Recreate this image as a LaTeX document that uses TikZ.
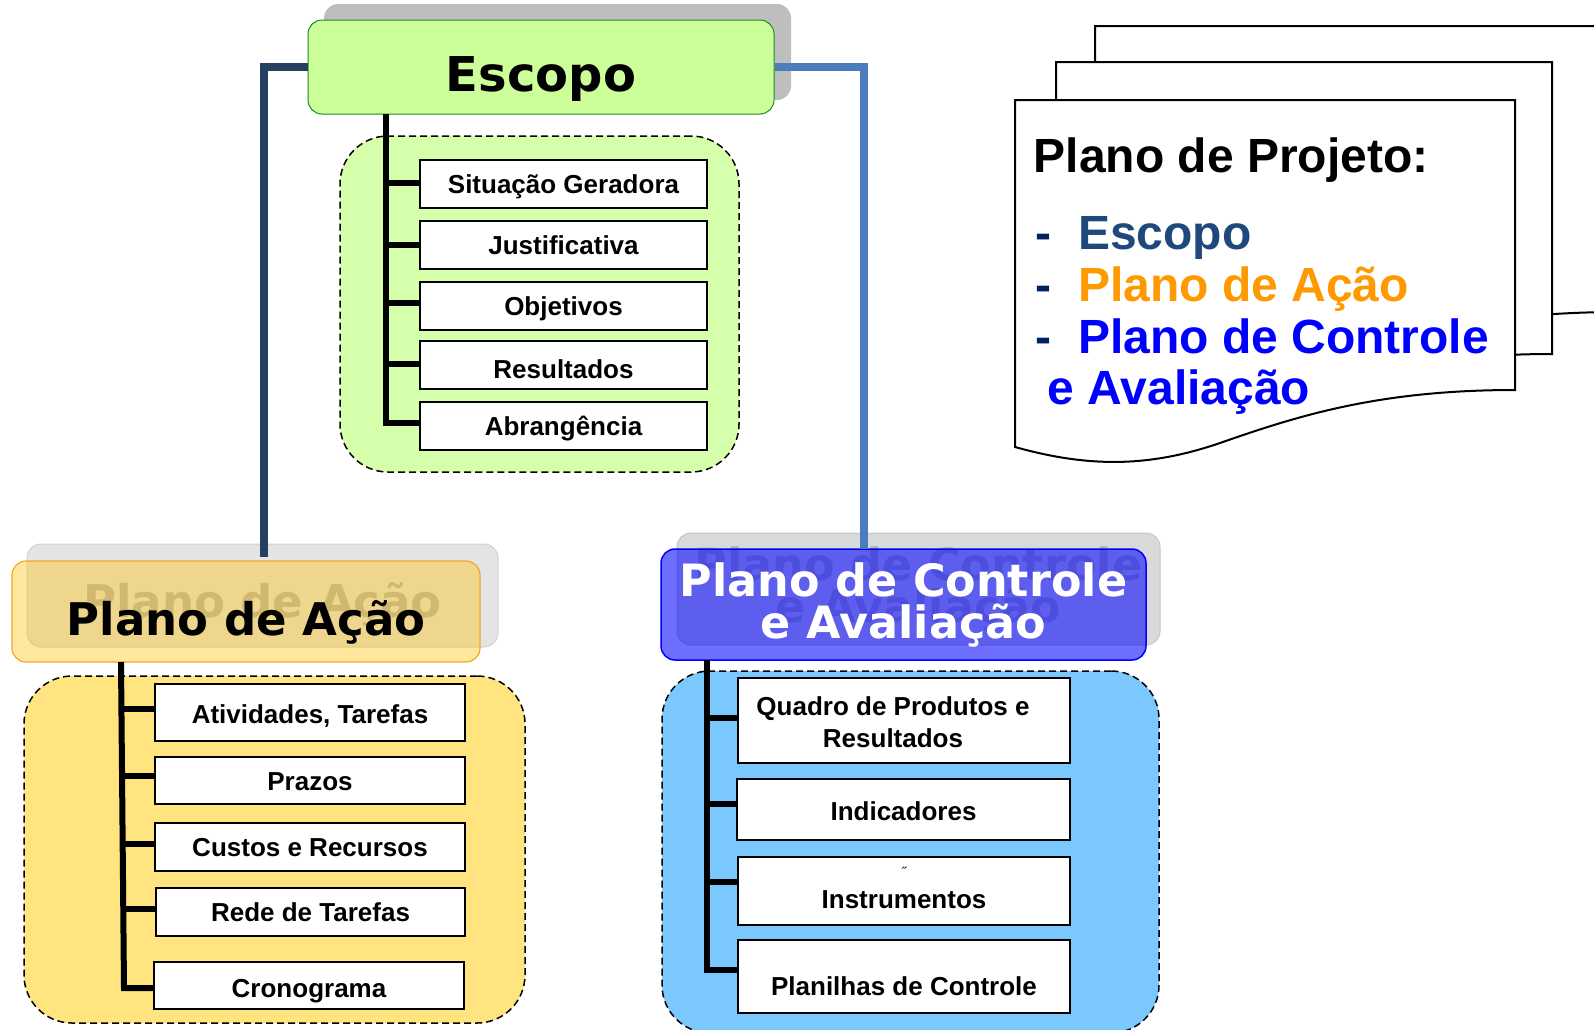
\documentclass[tikz,border=0pt]{standalone}
\usepackage{fontspec}
\setmainfont{Liberation Sans}
\newfontfamily\hdfont{DejaVu Sans}
\newcommand{\twoL}[3]{\vtop{\baselineskip=#1\relax\lineskiplimit=-1000pt\lineskip=0pt\halign{\hfil##\hfil\cr#2\cr#3\cr}}}
\definecolor{escfill}{HTML}{CCFF99}
\definecolor{escdraw}{HTML}{1E8A1E}
\definecolor{greenreg}{HTML}{D5FFAA}
\definecolor{yelreg}{HTML}{FFE480}
\definecolor{orgfill}{HTML}{FFC000}
\definecolor{orgdraw}{HTML}{F5A62A}
\definecolor{bluereg}{HTML}{7BC8FF}
\definecolor{blufill}{HTML}{0000FF}
\definecolor{conL}{HTML}{243F60}
\definecolor{conR}{HTML}{4A7EBB}
\definecolor{shEsc}{HTML}{BEBEBE}
\definecolor{shAcao}{HTML}{E4E4E4}
\definecolor{shAcaoD}{HTML}{D2D2D2}
\definecolor{shCtrl}{HTML}{D9D9D9}
\definecolor{shCtrlD}{HTML}{C6C6C6}
\definecolor{shtext}{HTML}{B4B4B4}
\definecolor{docnavy}{HTML}{002060}
\definecolor{docEsc}{HTML}{1F497D}
\definecolor{docOrg}{HTML}{FF9900}
\definecolor{docBlue}{HTML}{0000FF}
\tikzset{
  hdr/.style={rounded corners=14pt, inner sep=0pt},
  hdrfont/.style={font=\fontsize{#1}{#1}\hdfont\bfseries},
  itembox/.style={draw=black, line width=2pt, fill=white, inner sep=0pt,
    text height=19pt, text depth=0pt, font=\fontsize{26}{32}\selectfont\bfseries},
  region/.style={draw=black, dash pattern=on 7pt off 4pt, line width=1.5pt,
    rounded corners=48pt, inner sep=0pt},
  trunk/.style={line width=6pt, draw=black, line join=miter},
  conn/.style={line width=8.5pt, line join=miter},
  page/.style={draw=black, fill=white, line width=2pt, line join=miter},
  doctext/.style={anchor=base west, inner sep=0pt, font=\fontsize{48}{52}\selectfont\bfseries},
}
\begin{document}
\begin{tikzpicture}[x=1pt,y=-1pt]
\useasboundingbox (0,0) rectangle (1594,1029);
\begin{scope}
\clip (0,0) rectangle (1594,1029);

% ---------- document stack ----------
\filldraw[page] (1095,374) -- (1095,26) -- (1620,26) -- (1620,312)
  .. controls (1480,312) and (1400,337) .. (1320,365)
  .. controls (1250,389) and (1170,392) .. (1095,374) -- cycle;
\filldraw[page] (1056,410) -- (1056,62) -- (1552,62) -- (1552,354)
  .. controls (1420,354) and (1340,379) .. (1260,407)
  .. controls (1190,431) and (1130,432) .. (1056,410) -- cycle;
\filldraw[page] (1015,447) -- (1015,100) -- (1515,100) -- (1515,390)
  .. controls (1380,390) and (1300,415) .. (1220,443)
  .. controls (1150,467) and (1090,468) .. (1015,447) -- cycle;

\node[doctext] (pp) at (1033.5,172) {Plano de Projeto:};
\node[doctext] (d1) at (1035,249) {\textcolor{docnavy}{-}\hspace{27pt}\textcolor{docEsc}{Escopo}};
\node[doctext] (d2) at (1035,301) {\textcolor{docnavy}{-}\hspace{27pt}\textcolor{docOrg}{Plano de Ação}};
\node[doctext] (d3) at (1035,353) {\textcolor{docnavy}{-}\hspace{27pt}\textcolor{docBlue}{Plano de Controle}};
\node[doctext, text=docBlue] (d4) at (1047.5,404) {e Avaliação};

% ---------- shadows ----------
\node[hdr, fill=shEsc, minimum width=467pt, minimum height=96pt] (escsh) at (557.5,52) {};
\node[hdr, fill=shAcao, draw=shAcaoD, line width=1pt, minimum width=471pt, minimum height=103pt,
  hdrfont=45, text=shtext, text height=43pt, text depth=0pt] (acaosh) at (262.5,595.5) {Plano de Ação};
\node[hdr, fill=shCtrl, draw=shCtrlD, line width=1pt, minimum width=483pt, minimum height=112pt,
  hdrfont=44.5, text=shtext, text height=30pt, text depth=48pt] (ctrlsh) at (918.5,589)
  {\twoL{42pt}{Plano de Controle}{e Avaliação}};

% ---------- header boxes ----------
\node[hdr, fill=escfill, draw=escdraw, line width=1pt, minimum width=466pt, minimum height=94pt,
  hdrfont=48, text height=48pt, text depth=0pt] (esc) at (541,67) {Escopo};
\node[hdr, fill=orgfill, fill opacity=0.38, text opacity=1, draw=orgdraw, line width=1.2pt,
  minimum width=468pt, minimum height=101pt, hdrfont=45, text height=47pt, text depth=0pt]
  (acao) at (246,611.5) {Plano de Ação};
\node[hdr, fill=blufill, fill opacity=0.57, text opacity=1, draw=blufill, line width=1.5pt,
  minimum width=485pt, minimum height=111pt, hdrfont=44.5, text=white, text height=30pt, text depth=47pt]
  (ctrl) at (903.5,604.5) {\twoL{42pt}{Plano de Controle}{e Avaliação}};

% ---------- connectors ----------
\coordinate (acaoTop) at (264,557);
\coordinate (ctrlTop) at (864,549);
\draw[conn, conL] (esc.west) -| (acaoTop);
\draw[conn, conR] (esc.east) -| (ctrlTop);

% ---------- Escopo group ----------
\node[region, fill=greenreg, minimum width=399pt, minimum height=336pt] (escreg) at (539.5,304) {};
\node[itembox, minimum width=287pt, minimum height=48pt] (sg) at (563.5,184) {Situação Geradora};
\node[itembox, minimum width=287pt, minimum height=48pt] (ju) at (563.5,245) {Justificativa};
\node[itembox, minimum width=287pt, minimum height=48pt] (ob) at (563.5,306) {Objetivos};
\node[itembox, minimum width=287pt, minimum height=48pt, text height=26pt] (re) at (563.5,365) {Resultados};
\node[itembox, minimum width=287pt, minimum height=48pt] (ab) at (563.5,426) {Abrangência};
\coordinate (tA) at (386,114);
\draw[trunk] (tA) |- ([yshift=3pt]ab.west);
\draw[trunk] ([yshift=1pt]sg.west) -- ([yshift=1pt]sg.west -| tA);
\draw[trunk] (ju.west) -- (ju.west -| tA);
\draw[trunk] ([yshift=3pt]ob.west) -- ([yshift=3pt]ob.west -| tA);
\draw[trunk] ([yshift=1pt]re.west) -- ([yshift=1pt]re.west -| tA);

% ---------- Plano de Ação group ----------
\node[region, fill=yelreg, minimum width=501pt, minimum height=347pt] (acaoreg) at (274.5,849.5) {};
\node[itembox, minimum width=310pt, minimum height=57pt, text height=21pt] (at) at (310,712.5) {Atividades, Tarefas};
\node[itembox, minimum width=310pt, minimum height=47pt] (pz) at (310,780.5) {Prazos};
\node[itembox, minimum width=310pt, minimum height=48pt] (cr) at (310,847) {Custos e Recursos};
\node[itembox, minimum width=309pt, minimum height=48pt] (rt) at (310.5,912) {Rede de Tarefas};
\node[itembox, minimum width=310pt, minimum height=47pt, text height=23pt] (cg) at (309,985.5) {Cronograma};
\coordinate (tB) at (121,662);
\coordinate (tBb) at (124,988);
\draw[trunk] (tB) -- (tBb) -- ([yshift=-2.5pt]cg.west);
\draw[trunk] ([yshift=3.5pt]at.west) -- ([yshift=3.5pt]at.west -| tB);
\draw[trunk] ([yshift=4.5pt]pz.west) -- ([yshift=4.5pt]pz.west -| tB);
\draw[trunk] ([yshift=3pt]cr.west) -- ([yshift=3pt]cr.west -| tBb);
\draw[trunk] ([yshift=3pt]rt.west) -- ([yshift=3pt]rt.west -| tBb);

% ---------- Plano de Controle group ----------
\node[region, fill=bluereg, minimum width=497pt, minimum height=362pt] (ctrlreg) at (910.5,852) {};
\node[itembox, minimum width=332pt, minimum height=85pt, text height=20pt, text depth=31pt] (qp) at (904,720.5)
  {\twoL{32pt}{Quadro de Produtos e}{Resultados}\hspace*{22pt}};
\node[itembox, minimum width=333pt, minimum height=61pt, text height=21pt] (ind) at (903.5,809.5) {Indicadores};
\node[itembox, minimum width=332pt, minimum height=68pt, text height=34pt] (ins) at (904,891) {Instrumentos};
\node[itembox, minimum width=332pt, minimum height=73pt, text height=37pt] (pc) at (904,976.5) {Planilhas de Controle};
\node[inner sep=0pt, font=\fontsize{14}{14}\selectfont] (insmark) at (904,872) {˝};
\coordinate (tC) at (707,660);
\draw[trunk] (tC) |- ([yshift=6.5pt]pc.west);
\draw[trunk] ([yshift=2.5pt]qp.west) -- ([yshift=2.5pt]qp.west -| tC);
\draw[trunk] ([yshift=5.5pt]ind.west) -- ([yshift=5.5pt]ind.west -| tC);
\draw[trunk] ([yshift=9pt]ins.west) -- ([yshift=9pt]ins.west -| tC);
\end{scope}
\end{tikzpicture}
\end{document}
